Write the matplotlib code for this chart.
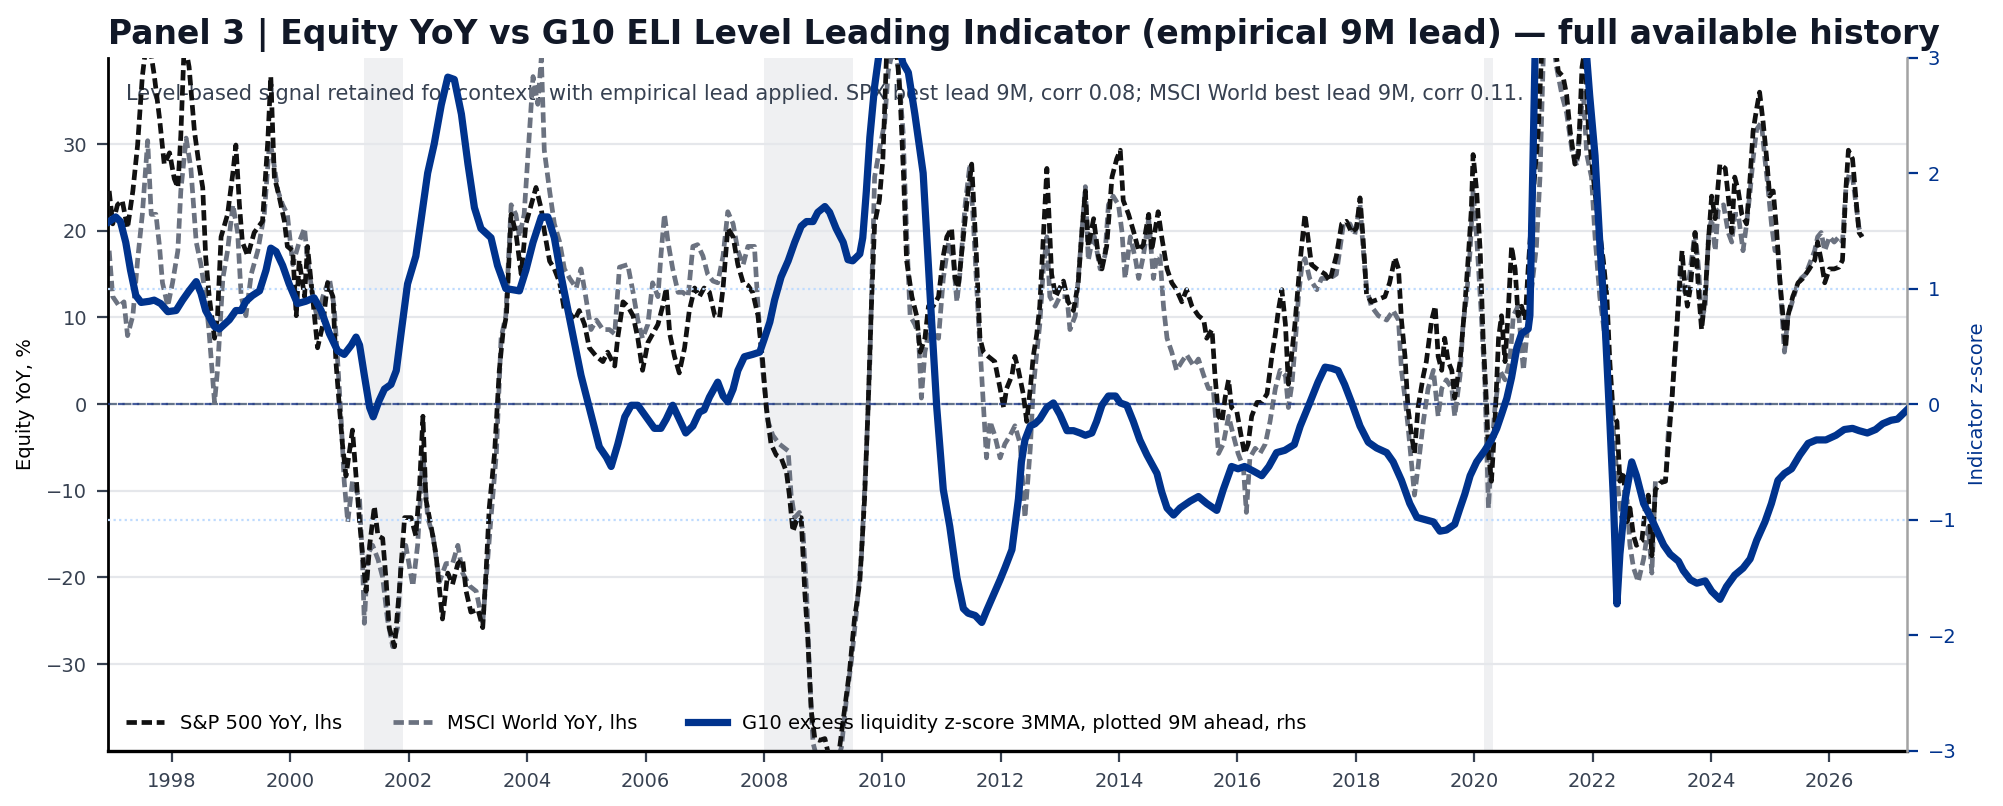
import matplotlib
matplotlib.use("Agg")
import matplotlib.pyplot as plt

plt.rcParams['font.family'] = ['DejaVu Sans']

# ---------------- data (decimal years) ----------------
spx_t = [1996.94, 1997.0, 1997.08, 1997.16, 1997.25, 1997.34, 1997.42, 1997.5, 1997.59, 1997.7, 1997.79, 1997.87, 1997.96,
         1998.04, 1998.1, 1998.15, 1998.21, 1998.29, 1998.38, 1998.46, 1998.52, 1998.57, 1998.63, 1998.72, 1998.77, 1998.83, 1998.94,
         1999.03, 1999.08, 1999.14, 1999.19, 1999.28, 1999.39, 1999.53, 1999.62, 1999.67, 1999.73, 1999.81, 1999.9, 1999.95,
         2000.04, 2000.1, 2000.15, 2000.24, 2000.29, 2000.38, 2000.46, 2000.55, 2000.63, 2000.72, 2000.77, 2000.83, 2000.88, 2000.94,
         2001.05, 2001.11, 2001.17, 2001.22, 2001.28, 2001.34, 2001.42, 2001.48, 2001.56, 2001.62, 2001.67, 2001.76, 2001.84, 2001.93,
         2002.04, 2002.12, 2002.18, 2002.24, 2002.29, 2002.38, 2002.46, 2002.57, 2002.66, 2002.74, 2002.83, 2002.91, 2002.97,
         2003.05, 2003.17, 2003.25, 2003.31, 2003.36, 2003.45, 2003.53, 2003.59, 2003.65, 2003.73, 2003.81, 2003.9, 2003.98,
         2004.07, 2004.15, 2004.24, 2004.29, 2004.38, 2004.46, 2004.55, 2004.63, 2004.72, 2004.8, 2004.88, 2004.97,
         2005.05, 2005.17, 2005.28, 2005.36, 2005.48, 2005.53, 2005.62, 2005.7, 2005.79, 2005.87, 2005.95,
         2006.04, 2006.12, 2006.21, 2006.29, 2006.35, 2006.41, 2006.49, 2006.57, 2006.66, 2006.74, 2006.83, 2006.91, 2006.99,
         2007.08, 2007.17, 2007.25, 2007.31, 2007.39, 2007.48, 2007.56, 2007.65, 2007.73, 2007.81, 2007.9, 2007.98,
         2008.04, 2008.12, 2008.21, 2008.29, 2008.38, 2008.43, 2008.49, 2008.57, 2008.63, 2008.69, 2008.74, 2008.8, 2008.86, 2008.94,
         2009.03, 2009.11, 2009.2, 2009.28, 2009.36, 2009.45, 2009.53, 2009.62, 2009.7, 2009.76, 2009.81, 2009.87, 2009.95,
         2010.01, 2010.07, 2010.15, 2010.22, 2010.3, 2010.36, 2010.41, 2010.5, 2010.58, 2010.64, 2010.72, 2010.78, 2010.86, 2010.95,
         2011.03, 2011.09, 2011.17, 2011.23, 2011.28, 2011.37, 2011.45, 2011.51, 2011.59, 2011.65, 2011.71, 2011.79, 2011.9, 2011.99,
         2012.05, 2012.1, 2012.19, 2012.24, 2012.3, 2012.38, 2012.44, 2012.5, 2012.55, 2012.61, 2012.66, 2012.72, 2012.78, 2012.86, 2012.93,
         2013.0, 2013.06, 2013.14, 2013.23, 2013.31, 2013.37, 2013.43, 2013.48, 2013.57, 2013.65, 2013.71, 2013.79, 2013.88, 2013.96,
         2014.02, 2014.07, 2014.16, 2014.25, 2014.33, 2014.41, 2014.5, 2014.55, 2014.66, 2014.72, 2014.81, 2014.89, 2014.97,
         2015.06, 2015.14, 2015.23, 2015.34, 2015.43, 2015.48, 2015.57, 2015.62, 2015.68, 2015.74, 2015.79, 2015.85, 2015.9, 2015.99,
         2016.06, 2016.12, 2016.18, 2016.24, 2016.33, 2016.41, 2016.5, 2016.58, 2016.64, 2016.69, 2016.75, 2016.81, 2016.86, 2016.92, 2016.97,
         2017.06, 2017.14, 2017.2, 2017.25, 2017.34, 2017.48, 2017.56, 2017.67, 2017.76, 2017.84, 2017.93,
         2018.01, 2018.07, 2018.12, 2018.18, 2018.26, 2018.38, 2018.49, 2018.57, 2018.66, 2018.72, 2018.77, 2018.83, 2018.88, 2018.94, 2018.99,
         2019.05, 2019.14, 2019.19, 2019.28, 2019.34, 2019.39, 2019.45, 2019.5, 2019.56, 2019.62, 2019.67, 2019.76, 2019.84, 2019.9, 2019.95, 2019.98,
         2020.04, 2020.1, 2020.15, 2020.21, 2020.24, 2020.29, 2020.35, 2020.41, 2020.46, 2020.52, 2020.57, 2020.63, 2020.69, 2020.74, 2020.8, 2020.86, 2020.91,
         2021.0, 2021.08, 2021.14, 2021.22, 2021.3, 2021.42, 2021.5, 2021.56, 2021.62, 2021.7, 2021.76, 2021.82, 2021.87, 2021.93,
         2022.01, 2022.1, 2022.18, 2022.24, 2022.29, 2022.35, 2022.41, 2022.46, 2022.52, 2022.58, 2022.63, 2022.69, 2022.74, 2022.83, 2022.89, 2022.94,
         2023.0, 2023.06, 2023.14, 2023.23, 2023.28, 2023.34, 2023.39, 2023.45, 2023.51, 2023.56, 2023.6, 2023.65, 2023.73, 2023.79, 2023.84, 2023.9, 2023.96,
         2024.01, 2024.07, 2024.15, 2024.24, 2024.29, 2024.35, 2024.4, 2024.46, 2024.52, 2024.6, 2024.66, 2024.71, 2024.77, 2024.82, 2024.88, 2024.94, 2024.99,
         2025.05, 2025.11, 2025.16, 2025.22, 2025.26, 2025.3, 2025.38, 2025.47, 2025.55, 2025.66, 2025.75, 2025.8, 2025.86, 2025.92,
         2026.0, 2026.08, 2026.16, 2026.22, 2026.28, 2026.32, 2026.39, 2026.45, 2026.5, 2026.55]
spx_v = [24.6, 20.8, 23.0, 23.5, 20.3, 24.6, 29.9, 37.8, 43.0, 38.0, 33.0, 27.7, 29.0,
         26.0, 25.0, 31.0, 42.0, 38.9, 31.5, 27.5, 25.0, 17.0, 12.4, 7.6, 10.2, 19.3, 21.9,
         26.7, 29.9, 23.0, 18.7, 17.1, 19.8, 21.1, 30.4, 37.8, 26.2, 24.0, 21.1, 18.2,
         17.7, 10.2, 16.6, 12.4, 18.2, 12.1, 6.5, 9.2, 14.0, 12.4, 4.9, -0.4, -4.6, -8.3,
         -3.0, -8.3, -13.6, -17.3, -21.6, -16.3, -11.8, -15.2, -15.5, -20.5, -25.8, -28.0, -21.6, -13.1,
         -13.1, -15.2, -9.9, -1.4, -11.0, -14.2, -17.3, -24.8, -19.5, -20.8, -18.4, -17.9, -21.6,
         -24.0, -23.7, -25.8, -18.9, -12.0, -5.7, 3.9, 8.1, 10.2, 21.9, 19.8, 15.0, 20.8,
         23.0, 25.0, 22.5, 20.0, 16.5, 15.6, 14.0, 10.8, 10.5, 9.7, 10.8, 9.2,
         6.5, 5.5, 4.9, 6.0, 4.4, 7.6, 11.8, 11.3, 10.2, 7.6, 3.9,
         7.1, 8.1, 9.2, 11.3, 13.4, 8.1, 5.5, 3.6, 6.5, 10.8, 13.4, 12.4, 13.4,
         12.9, 10.2, 10.0, 13.4, 20.3, 19.3, 16.1, 14.0, 13.7, 12.9, 10.2, 4.9,
         -0.4, -4.6, -5.9, -6.2, -7.8, -10.5, -14.7, -13.1, -13.1, -21.6, -26.9, -35.4, -38.6, -38.8,
         -38.6, -41.0, -42.0, -39.6, -35.4, -30.6, -24.8, -20.5, -11.0, -0.4, 10.2, 20.8, 23.5,
         28.3, 40.0, 45.0, 43.0, 35.7, 26.2, 16.6, 12.4, 10.2, 6.0, 7.6, 11.3, 11.3, 12.4,
         17.1, 19.3, 20.3, 14.5, 13.4, 19.3, 24.6, 27.7, 17.1, 7.6, 6.0, 5.5, 4.9, 1.8,
         -0.4, 1.8, 3.3, 5.5, 3.9, 1.2, -2.0, 1.8, 5.5, 8.1, 11.3, 19.3, 27.2, 15.0, 12.4,
         13.4, 14.2, 11.8, 10.8, 14.0, 19.8, 24.6, 18.2, 21.4, 17.1, 15.6, 18.2, 26.2, 28.3,
         29.3, 23.5, 21.9, 19.8, 17.7, 18.4, 21.9, 17.7, 22.2, 19.3, 15.6, 14.0, 13.2,
         11.8, 13.2, 11.3, 10.2, 9.7, 7.6, 8.6, 3.3, -1.4, -2.0, 0.7, 2.8, -0.4, -0.9,
         -3.6, -5.7, -4.6, -1.4, 0.2, 0.2, 1.2, 5.5, 8.1, 10.8, 13.2, 9.2, 2.3, 6.0, 9.2,
         16.6, 21.9, 18.7, 16.1, 15.6, 15.0, 14.2, 17.1, 20.8, 21.1, 19.8,
         20.3, 23.8, 19.3, 12.7, 11.8, 12.1, 12.4, 14.0, 16.9, 15.6, 9.7, 5.5, -0.4, -3.6, -5.7,
         -0.4, 3.3, 4.9, 9.7, 11.3, 5.5, 3.9, 7.6, 4.9, 3.9, 0.7, 4.9, 11.3, 17.1, 22.4, 28.8,
         24.6, 17.7, 7.6, -0.4, -5.7, -8.9, -2.0, 7.6, 10.2, 4.9, 10.2, 18.2, 15.6, 10.2, 11.3, 9.7, 15.6,
         24.6, 31.5, 41.0, 46.0, 45.0, 38.4, 37.8, 35.7, 31.5, 27.7, 28.8, 38.9, 41.0, 31.5,
         26.2, 20.8, 16.6, 12.4, 4.9, -1.4, -2.0, -8.9, -7.8, -13.6, -12.0, -15.2, -16.3, -15.8, -12.0, -10.5,
         -17.5, -9.9, -9.1, -8.9, -4.6, 0.7, 6.0, 11.8, 17.7, 13.4, 11.3, 13.4, 19.8, 12.9, 8.6, 12.4, 19.3,
         24.0, 21.4, 27.7, 27.2, 24.0, 19.8, 26.2, 24.6, 21.9, 20.8, 26.2, 31.5, 34.1, 36.0, 32.5, 28.3, 24.0,
         24.6, 19.8, 14.5, 9.7, 6.5, 10.2, 12.4, 14.0, 14.5, 15.6, 16.6, 18.7, 16.6, 14.0,
         15.6, 15.6, 15.8, 16.6, 25.1, 29.3, 28.3, 23.5, 19.8, 19.3]

msci_t = [1996.94, 1997.0, 1997.11, 1997.19, 1997.25, 1997.34, 1997.42, 1997.5, 1997.59, 1997.65, 1997.73, 1997.79, 1997.84, 1997.93,
          1998.01, 1998.1, 1998.15, 1998.24, 1998.32, 1998.41, 1998.49, 1998.57, 1998.63, 1998.72, 1998.77, 1998.86, 1998.94,
          1999.03, 1999.11, 1999.17, 1999.25, 1999.34, 1999.45, 1999.56, 1999.65, 1999.7, 1999.79, 1999.87, 1999.95,
          2000.04, 2000.15, 2000.24, 2000.29, 2000.38, 2000.46, 2000.55, 2000.66, 2000.74, 2000.8, 2000.86, 2000.91, 2000.97,
          2001.05, 2001.11, 2001.17, 2001.22, 2001.25, 2001.31, 2001.39, 2001.48, 2001.56, 2001.64, 2001.73, 2001.81, 2001.87, 2001.95,
          2002.07, 2002.15, 2002.24, 2002.32, 2002.41, 2002.52, 2002.63, 2002.74, 2002.83, 2002.91,
          2003.03, 2003.14, 2003.25, 2003.31, 2003.39, 2003.48, 2003.56, 2003.64, 2003.73, 2003.81, 2003.87, 2003.95,
          2004.01, 2004.1, 2004.18, 2004.24, 2004.29, 2004.38, 2004.46, 2004.55, 2004.63, 2004.72, 2004.83, 2004.91, 2004.99,
          2005.08, 2005.17, 2005.28, 2005.39, 2005.48, 2005.56, 2005.7, 2005.79, 2005.87, 2005.95,
          2006.04, 2006.12, 2006.21, 2006.26, 2006.32, 2006.38, 2006.46, 2006.55, 2006.63, 2006.72, 2006.8, 2006.88, 2006.97,
          2007.05, 2007.14, 2007.22, 2007.31, 2007.39, 2007.48, 2007.56, 2007.65, 2007.73, 2007.84, 2007.9, 2007.98,
          2008.07, 2008.15, 2008.26, 2008.41, 2008.46, 2008.52, 2008.6, 2008.66, 2008.72, 2008.77, 2008.83, 2008.94,
          2009.1, 2009.2, 2009.31, 2009.39, 2009.48, 2009.56, 2009.65, 2009.73, 2009.79, 2009.87, 2009.95,
          2010.04, 2010.1, 2010.18, 2010.27, 2010.35, 2010.41, 2010.47, 2010.55, 2010.61, 2010.66, 2010.72, 2010.81, 2010.86, 2010.95,
          2011.03, 2011.12, 2011.2, 2011.26, 2011.31, 2011.4, 2011.48, 2011.54, 2011.62, 2011.71, 2011.76, 2011.82, 2011.9, 2011.99,
          2012.07, 2012.16, 2012.24, 2012.33, 2012.41, 2012.5, 2012.55, 2012.61, 2012.66, 2012.72, 2012.78, 2012.83, 2012.92,
          2013.0, 2013.12, 2013.17, 2013.26, 2013.34, 2013.43, 2013.48, 2013.57, 2013.68, 2013.76, 2013.82, 2013.9, 2013.99,
          2014.05, 2014.1, 2014.19, 2014.28, 2014.33, 2014.41, 2014.5, 2014.58, 2014.64, 2014.69, 2014.75, 2014.81, 2014.89, 2014.97,
          2015.06, 2015.14, 2015.26, 2015.34, 2015.43, 2015.51, 2015.59, 2015.68, 2015.76, 2015.85, 2015.93,
          2016.01, 2016.1, 2016.15, 2016.21, 2016.3, 2016.38, 2016.47, 2016.55, 2016.64, 2016.72, 2016.81, 2016.86, 2016.92, 2016.97,
          2017.03, 2017.09, 2017.14, 2017.22, 2017.34, 2017.42, 2017.56, 2017.67, 2017.79, 2017.9, 2017.98,
          2018.07, 2018.12, 2018.18, 2018.26, 2018.38, 2018.52, 2018.63, 2018.72, 2018.77, 2018.83, 2018.88, 2018.94, 2018.99,
          2019.05, 2019.14, 2019.22, 2019.31, 2019.39, 2019.45, 2019.53, 2019.62, 2019.67, 2019.76, 2019.81, 2019.87, 2019.93, 2019.98,
          2020.04, 2020.12, 2020.18, 2020.24, 2020.29, 2020.35, 2020.43, 2020.52, 2020.6, 2020.66, 2020.74, 2020.83, 2020.89, 2020.97,
          2021.05, 2021.11, 2021.17, 2021.25, 2021.33, 2021.39, 2021.48, 2021.56, 2021.65, 2021.73, 2021.79, 2021.84, 2021.9, 2021.98,
          2022.04, 2022.12, 2022.21, 2022.32, 2022.38, 2022.43, 2022.49, 2022.58, 2022.63, 2022.69, 2022.77, 2022.86, 2022.94,
          2023.0, 2023.06, 2023.14, 2023.23, 2023.28, 2023.34, 2023.42, 2023.48, 2023.53, 2023.59, 2023.67, 2023.73, 2023.79, 2023.84, 2023.9, 2023.96,
          2024.01, 2024.07, 2024.12, 2024.21, 2024.29, 2024.35, 2024.4, 2024.46, 2024.54, 2024.6, 2024.66, 2024.71, 2024.77, 2024.85, 2024.91, 2024.96,
          2025.02, 2025.08, 2025.13, 2025.19, 2025.24, 2025.3, 2025.35, 2025.44, 2025.52, 2025.6, 2025.69, 2025.75, 2025.8, 2025.86, 2025.92,
          2026.0, 2026.08, 2026.16, 2026.22, 2026.28, 2026.34, 2026.39, 2026.45, 2026.5, 2026.55]
msci_v = [17.7, 12.4, 11.3, 11.8, 7.9, 10.2, 16.6, 21.9, 30.4, 21.9, 21.9, 18.2, 14.0, 11.3,
          14.0, 17.7, 24.6, 30.7, 27.2, 18.7, 16.1, 12.4, 8.1, 0.2, 3.9, 14.5, 17.7,
          23.0, 19.8, 12.4, 10.2, 15.0, 17.7, 21.9, 30.4, 28.8, 24.6, 23.0, 21.9,
          16.1, 18.7, 20.3, 16.6, 12.4, 9.7, 12.4, 14.5, 11.3, 4.9, -2.0, -8.9, -13.6,
          -8.9, -9.9, -11.0, -18.4, -25.3, -17.3, -16.3, -17.9, -20.0, -24.8, -28.0, -25.8, -18.4, -16.3,
          -21.0, -16.3, -5.7, -13.1, -15.2, -20.5, -18.4, -18.4, -16.3, -19.5,
          -21.0, -21.6, -25.3, -20.0, -13.1, -5.7, 7.6, 10.2, 23.0, 21.9, 19.3, 21.9,
          28.3, 37.8, 34.6, 40.0, 29.3, 24.6, 20.8, 18.7, 15.6, 14.5, 13.4, 15.6, 12.4,
          8.6, 9.7, 8.6, 8.6, 8.1, 15.8, 16.1, 12.9, 9.7, 7.6,
          9.2, 14.0, 12.4, 17.1, 21.9, 18.7, 15.6, 12.9, 12.9, 12.4, 18.2, 18.4, 17.1,
          15.0, 14.2, 14.0, 17.1, 22.2, 20.8, 17.7, 16.1, 18.2, 18.2, 11.3, 3.9,
          -2.0, -3.6, -4.6, -5.4, -10.5, -13.1, -12.5, -14.7, -21.6, -31.1, -39.1, -42.0,
          -43.0, -42.0, -39.6, -34.3, -29.5, -24.2, -17.3, -5.7, 4.9, 26.2, 29.3,
          32.5, 38.4, 41.0, 38.9, 31.5, 19.8, 10.2, 9.2, 8.1, 0.7, 6.0, 9.2, 8.1, 7.6,
          14.5, 18.7, 16.6, 11.8, 15.0, 23.0, 27.7, 20.8, 10.2, -0.4, -6.2, -2.0, -3.6, -6.2,
          -4.6, -3.6, -2.5, -4.6, -13.1, -5.1, 1.8, 6.0, 9.2, 15.6, 19.3, 12.4, 11.3,
          12.4, 12.4, 8.6, 10.2, 17.1, 25.1, 16.6, 19.8, 15.6, 17.1, 23.0, 24.0, 23.0,
          19.8, 14.5, 19.3, 16.6, 14.5, 17.1, 21.4, 14.5, 17.1, 17.1, 11.3, 7.6, 6.0, 3.9,
          4.9, 5.7, 4.4, 5.2, 3.3, 1.8, 1.8, -5.7, -4.6, -1.4, -3.6,
          -5.7, -7.3, -12.5, -6.2, -5.1, -5.7, -4.6, -2.0, 1.8, 3.9, 3.3, -0.4, 2.3, 6.5,
          12.4, 16.1, 16.8, 14.5, 13.2, 14.5, 14.5, 15.0, 20.8, 20.8, 19.5,
          23.0, 18.2, 13.4, 11.3, 10.2, 9.7, 10.8, 9.7, 3.9, 0.7, -2.5, -6.8, -10.5,
          -7.3, -2.0, 1.8, 3.9, -1.4, 1.8, 2.8, 1.8, -1.4, 3.3, 9.2, 12.4, 17.7, 24.6,
          19.3, 10.2, 2.3, -12.0, -5.7, -0.4, 3.9, 2.8, 4.9, 10.2, 11.3, 3.9, 8.1, 13.4,
          18.2, 26.2, 41.0, 45.0, 42.0, 38.9, 35.7, 33.6, 29.3, 27.5, 32.5, 36.2, 28.8, 26.2,
          19.3, 12.4, 7.6, -0.4, -5.7, -9.9, -13.1, -11.0, -16.3, -18.9, -20.5, -17.9, -14.2,
          -19.5, -8.9, -8.9, -8.9, -3.0, 0.7, 8.1, 16.1, 13.4, 12.4, 16.6, 19.8, 15.6, 9.7, 11.3, 19.8,
          21.4, 17.7, 22.4, 23.0, 19.8, 18.7, 21.9, 21.9, 17.7, 20.8, 24.6, 28.3, 31.7, 32.5, 28.3, 25.1,
          20.8, 17.7, 17.7, 11.3, 6.0, 10.2, 11.3, 13.4, 14.5, 15.0, 16.6, 17.7, 19.3, 19.8, 17.7,
          19.3, 18.7, 19.3, 18.7, 25.1, 26.7, 26.2, 23.0, 20.3, 19.3]

eli_t = [1996.94, 1997.05, 1997.13, 1997.22, 1997.3, 1997.39, 1997.48, 1997.62, 1997.7, 1997.81, 1997.93,
         1998.07, 1998.18, 1998.29, 1998.41, 1998.49, 1998.57, 1998.72, 1998.8, 1998.97,
         1999.08, 1999.17, 1999.25, 1999.36, 1999.48, 1999.59, 1999.67, 1999.76, 1999.87, 1999.98,
         2000.12, 2000.26, 2000.4, 2000.52, 2000.66, 2000.8, 2000.91,
         2001.03, 2001.11, 2001.17, 2001.25, 2001.34, 2001.4, 2001.5, 2001.59, 2001.7, 2001.79, 2001.87, 2001.98,
         2002.12, 2002.21, 2002.32, 2002.43, 2002.55, 2002.66, 2002.77, 2002.89,
         2003.0, 2003.11, 2003.22, 2003.39, 2003.5, 2003.64, 2003.87, 2003.98,
         2004.1, 2004.24, 2004.35, 2004.46, 2004.57, 2004.69, 2004.8, 2004.91,
         2005.05, 2005.22, 2005.34, 2005.42, 2005.53, 2005.65, 2005.76, 2005.87,
         2006.01, 2006.15, 2006.26, 2006.35, 2006.46, 2006.57, 2006.68, 2006.8, 2006.91, 2006.99,
         2007.08, 2007.22, 2007.31, 2007.39, 2007.48, 2007.56, 2007.67, 2007.81, 2007.93,
         2008.01, 2008.1, 2008.18, 2008.29, 2008.41, 2008.52, 2008.63, 2008.72, 2008.83, 2008.91,
         2009.03, 2009.11, 2009.22, 2009.34, 2009.42, 2009.5, 2009.62, 2009.67, 2009.73, 2009.79, 2009.87, 2009.95,
         2010.05, 2010.15, 2010.25, 2010.35, 2010.44, 2010.55, 2010.69, 2010.81, 2010.92,
         2011.03, 2011.14, 2011.26, 2011.37, 2011.45, 2011.57, 2011.68, 2011.76, 2011.88, 2011.99,
         2012.07, 2012.19, 2012.24, 2012.3, 2012.35, 2012.41, 2012.5, 2012.58, 2012.66, 2012.78, 2012.89,
         2013.0, 2013.12, 2013.23, 2013.34, 2013.43, 2013.54, 2013.62, 2013.71, 2013.82, 2013.94,
         2014.02, 2014.13, 2014.24, 2014.35, 2014.47, 2014.64, 2014.72, 2014.81, 2014.92,
         2015.03, 2015.2, 2015.34, 2015.48, 2015.65, 2015.76, 2015.9,
         2016.01, 2016.12, 2016.27, 2016.41, 2016.53, 2016.66, 2016.8, 2016.96,
         2017.06, 2017.22, 2017.36, 2017.48, 2017.59, 2017.7, 2017.81, 2017.93,
         2018.07, 2018.21, 2018.35, 2018.52, 2018.63, 2018.77, 2018.91,
         2019.03, 2019.17, 2019.31, 2019.42, 2019.53, 2019.67, 2019.76, 2019.84, 2019.93,
         2020.04, 2020.18, 2020.29, 2020.38, 2020.46, 2020.55, 2020.63, 2020.72, 2020.8, 2020.91, 2020.94, 2020.97,
         2021.03, 2021.2, 2021.5, 2021.75, 2021.9, 2021.95,
         2022.04, 2022.12, 2022.21, 2022.29, 2022.35, 2022.41, 2022.46, 2022.55, 2022.66, 2022.74, 2022.86,
         2023.0, 2023.09, 2023.2, 2023.31, 2023.45, 2023.53, 2023.65, 2023.76, 2023.9,
         2024.01, 2024.15, 2024.26, 2024.4, 2024.54, 2024.66, 2024.77, 2024.91,
         2025.02, 2025.13, 2025.24, 2025.36, 2025.5, 2025.64, 2025.78, 2025.94,
         2026.11, 2026.25, 2026.39, 2026.5, 2026.64, 2026.78, 2026.9,
         2027.04, 2027.15, 2027.23, 2027.31]
eli_v = [1.58, 1.62, 1.58, 1.40, 1.16, 0.94, 0.88, 0.89, 0.90, 0.87, 0.80,
         0.81, 0.90, 0.98, 1.06, 0.96, 0.81, 0.67, 0.65, 0.73,
         0.81, 0.81, 0.89, 0.94, 0.98, 1.16, 1.35, 1.32, 1.20, 1.04,
         0.87, 0.89, 0.92, 0.81, 0.61, 0.46, 0.43,
         0.51, 0.58, 0.51, 0.25, -0.03, -0.11, 0.03, 0.13, 0.17, 0.29, 0.61, 1.04,
         1.28, 1.60, 2.00, 2.25, 2.59, 2.83, 2.81, 2.51,
         2.08, 1.70, 1.52, 1.44, 1.20, 1.00, 0.98, 1.16,
         1.40, 1.62, 1.62, 1.44, 1.12, 0.81, 0.53, 0.25,
         -0.03, -0.37, -0.46, -0.54, -0.35, -0.11, -0.01, -0.01,
         -0.11, -0.21, -0.21, -0.13, -0.01, -0.13, -0.25, -0.19, -0.07, -0.05,
         0.06, 0.19, 0.07, 0.02, 0.13, 0.29, 0.41, 0.43, 0.45,
         0.57, 0.71, 0.90, 1.10, 1.24, 1.40, 1.54, 1.58, 1.58, 1.66,
         1.71, 1.66, 1.52, 1.40, 1.25, 1.24, 1.30, 1.44, 1.84, 2.31, 2.75, 3.05,
         3.30, 3.35, 3.15, 2.95, 2.87, 2.51, 2.00, 0.92, -0.03,
         -0.74, -1.06, -1.50, -1.77, -1.81, -1.83, -1.89, -1.79, -1.65, -1.52,
         -1.42, -1.26, -1.06, -0.82, -0.50, -0.31, -0.19, -0.17, -0.13, -0.03, 0.01,
         -0.09, -0.23, -0.23, -0.25, -0.27, -0.25, -0.15, -0.01, 0.07, 0.07,
         0.01, -0.01, -0.15, -0.31, -0.44, -0.60, -0.76, -0.90, -0.96,
         -0.90, -0.84, -0.80, -0.86, -0.92, -0.74, -0.54,
         -0.56, -0.54, -0.58, -0.62, -0.54, -0.42, -0.40, -0.35,
         -0.19, 0.01, 0.19, 0.32, 0.31, 0.29, 0.17, 0.01,
         -0.19, -0.33, -0.38, -0.42, -0.50, -0.66, -0.86,
         -0.98, -1.00, -1.02, -1.10, -1.09, -1.04, -0.90, -0.78, -0.62,
         -0.50, -0.40, -0.31, -0.21, -0.09, 0.05, 0.23, 0.49, 0.61, 0.65, 0.77, 1.56,
         3.10, 4.00, 4.30, 3.80, 3.00, 2.67,
         2.15, 1.40, 0.69, -0.15, -0.82, -1.73, -1.30, -0.82, -0.50, -0.62, -0.86,
         -1.00, -1.10, -1.22, -1.30, -1.36, -1.44, -1.52, -1.55, -1.53,
         -1.62, -1.69, -1.58, -1.48, -1.42, -1.34, -1.18, -1.02,
         -0.86, -0.66, -0.60, -0.56, -0.44, -0.34, -0.31, -0.31,
         -0.27, -0.22, -0.21, -0.23, -0.25, -0.22, -0.17,
         -0.14, -0.13, -0.09, -0.05]

recessions = [(2001.25, 2001.91), (2008.0, 2009.5), (2020.16, 2020.31)]
year_ticks = [1998, 2000, 2002, 2004, 2006, 2008, 2010, 2012, 2014, 2016, 2018, 2020, 2022, 2024, 2026]
lhs_ticks = [-30, -20, -10, 0, 10, 20, 30]
rhs_ticks = [-3, -2, -1, 0, 1, 2, 3]

title = "Panel 3 | Equity YoY vs G10 ELI Level Leading Indicator (empirical 9M lead) \u2014 full available history"
note = ("Level-based signal retained for context, with empirical lead applied. SPX best lead 9M, corr 0.08; "
        "MSCI World best lead 9M, corr 0.11.")

# ---------------- style ----------------
BLUE = '#00338d'
BLACK = '#111111'
GRAY = '#6b7280'
SLATE = '#374151'
dash = (0, (2.2, 1.0))

fig = plt.figure(figsize=(2003 / 200, 806 / 200), dpi=200)
W, H = 2003, 806
L, R, T, B = 108, 1907, 57.5, 750.7
ax = fig.add_axes([L / W, 1 - B / H, (R - L) / W, (B - T) / H])
ax2 = ax.twinx()

for a, b in recessions:
    ax.axvspan(a, b, color='#eff0f2', lw=0, zorder=0)

ax.set_ylim(-40, 40)
ax2.set_ylim(-3, 3)
ax.set_xlim(1996.92, 2027.31)

ax.set_yticks(lhs_ticks)
ax.grid(axis='y', color='#e5e7eb', lw=0.8, zorder=0.5)
ax.set_axisbelow(True)

ax.axhline(0, color='#64748b', lw=0.8, ls=(0, (4, 2.5)), zorder=1)
ax2.axhline(0, color='#1e3a8a', lw=0.8, ls=(2, (3, 3.5)), zorder=1, alpha=0.8)
for z in (-1, 1):
    ax2.axhline(z, color='#bfdbfe', lw=0.8, ls=(0, (1, 1.5)), zorder=1)

ax.text(0.01, 0.947, note, transform=ax.transAxes, fontsize=7.55, color=SLATE, va='center', ha='left', zorder=1.5)

l1, = ax.plot(spx_t, spx_v, color=BLACK, lw=1.7, ls=dash, zorder=3, label='S&P 500 YoY, lhs')
l2, = ax.plot(msci_t, msci_v, color=GRAY, lw=1.7, ls=dash, zorder=2.5, label='MSCI World YoY, lhs')
l3, = ax2.plot(eli_t, eli_v, color=BLUE, lw=2.6, zorder=3, label='G10 excess liquidity z-score 3MMA, plotted 9M ahead, rhs')

ax.set_xticks(year_ticks)
ax.set_xticklabels([str(y) for y in year_ticks])
ax.tick_params(axis='x', labelsize=7, colors=SLATE, length=4, width=0.8)
ax.tick_params(axis='y', labelsize=7, colors=SLATE, length=4, width=0.8)
ax2.set_yticks(rhs_ticks)
ax2.set_yticklabels(['\u22123', '\u22122', '\u22121', '0', '1', '2', '3'])
ax2.tick_params(axis='y', labelsize=7, colors=BLUE, length=4, width=0.8)

ax.set_ylabel('Equity YoY, %', fontsize=7, color='black')
ax2.set_ylabel('Indicator z-score', fontsize=7, color=BLUE)

for s in ('top', 'right'):
    ax.spines[s].set_visible(False)
ax.spines['left'].set_color('black')
ax.spines['left'].set_linewidth(1.0)
ax.spines['bottom'].set_color('black')
ax.spines['bottom'].set_linewidth(1.2)
for s in ('top', 'left', 'bottom'):
    ax2.spines[s].set_visible(False)
ax2.spines['right'].set_color('#a3a3a3')
ax2.spines['right'].set_linewidth(0.9)

ax.legend(handles=[l1, l2, l3], loc='lower left', ncol=3, frameon=False, fontsize=7,
          handlelength=2.0, handletextpad=0.8, columnspacing=2.6, borderaxespad=0.5)

ax.set_title(title, fontsize=11.9, fontweight='bold', color='#111827', pad=5, loc='left')

fig.savefig('out.png', dpi=200)
